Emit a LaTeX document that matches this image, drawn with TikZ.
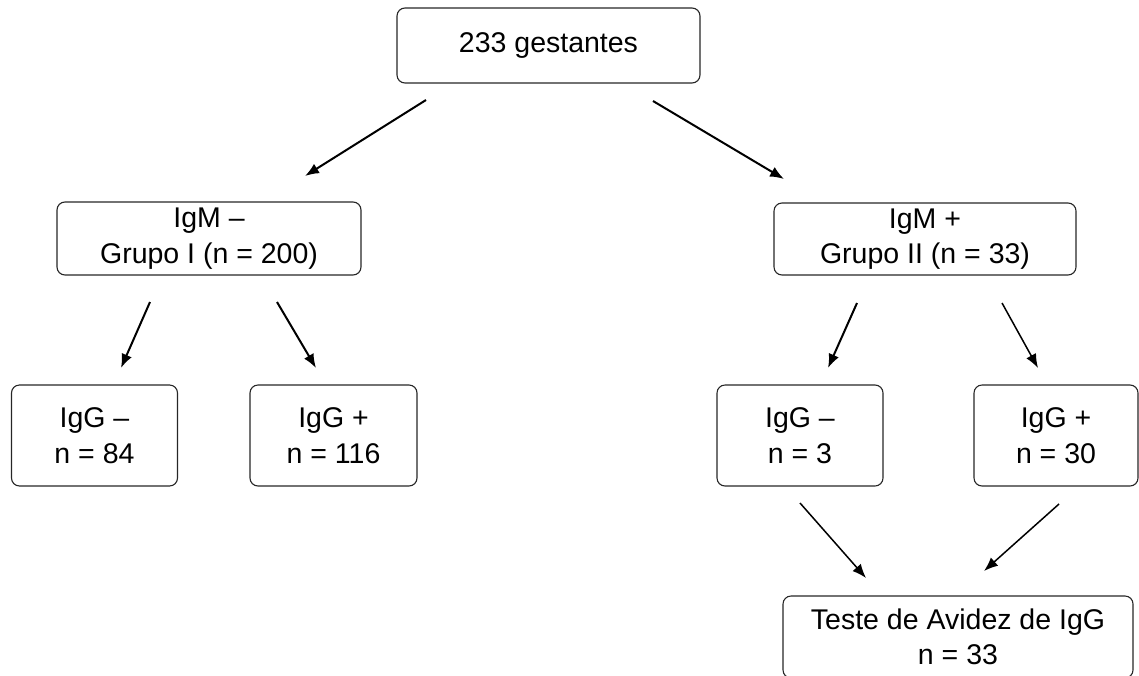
\documentclass[tikz,border=0pt]{standalone}
\usepackage{fontspec}
\setmainfont{Liberation Sans}
\usetikzlibrary{arrows.meta}
\begin{document}
\begin{tikzpicture}[x=1pt,y=-1pt,
  box/.style={draw=black!85, line width=1.1pt, rounded corners=8pt, align=center,
    inner sep=0pt, font=\fontsize{28.5}{35.5}\selectfont},
  arr/.style={line width=2pt, -{Latex[length=14pt,width=11pt]}},
  thinarr/.style={line width=1.5pt, -{Latex[length=14pt,width=11pt]}}]
\useasboundingbox (0,0) rectangle (1139,675);
\clip (0,0) rectangle (1139,675);

% boxes
\node[box, minimum width=303pt, minimum height=75pt] (all) at (548.5,45.5) {233 gestantes};
\node[box, minimum width=304pt, minimum height=73pt] (g1) at (209,238.5) {IgM –\\Grupo I (n = 200)};
\node[box, minimum width=302pt, minimum height=72pt] (g2) at (925,239) {IgM +\\Grupo II (n = 33)};
\node[box, minimum width=166pt, minimum height=101pt] (g1neg) at (94.5,435.5) {IgG –\\n = 84};
\node[box, minimum width=167pt, minimum height=101pt] (g1pos) at (333.5,435.5) {IgG +\\n = 116};
\node[box, minimum width=166pt, minimum height=101pt] (g2neg) at (800,435.5) {IgG –\\n = 3};
\node[box, minimum width=164pt, minimum height=101pt] (g2pos) at (1056,435.5) {IgG +\\n = 30};
\node[box, minimum width=350pt, minimum height=82pt] (avidez) at (958,637) {Teste de Avidez de IgG\\n = 33};

% arrow end points
\coordinate (a1s) at (426,100);  \coordinate (a1e) at (305,176);
\coordinate (a2s) at (653,101);  \coordinate (a2e) at (784,179);
\coordinate (a3s) at (150,302);  \coordinate (a3e) at (121,368);
\coordinate (a4s) at (277,302);  \coordinate (a4e) at (316,368);
\coordinate (a5s) at (857,303);  \coordinate (a5e) at (828,368);
\coordinate (a6s) at (1002,303); \coordinate (a6e) at (1038,368);
\coordinate (a7s) at (800,503);  \coordinate (a7e) at (866,578);
\coordinate (a8s) at (1059,504); \coordinate (a8e) at (984,571);

% arrows
\draw[arr] (a1s) -- (a1e);
\draw[arr] (a2s) -- (a2e);
\draw[arr] (a3s) -- (a3e);
\draw[arr] (a4s) -- (a4e);
\draw[arr] (a5s) -- (a5e);
\draw[thinarr] (a6s) -- (a6e);
\draw[thinarr] (a7s) -- (a7e);
\draw[thinarr] (a8s) -- (a8e);
\end{tikzpicture}
\end{document}
